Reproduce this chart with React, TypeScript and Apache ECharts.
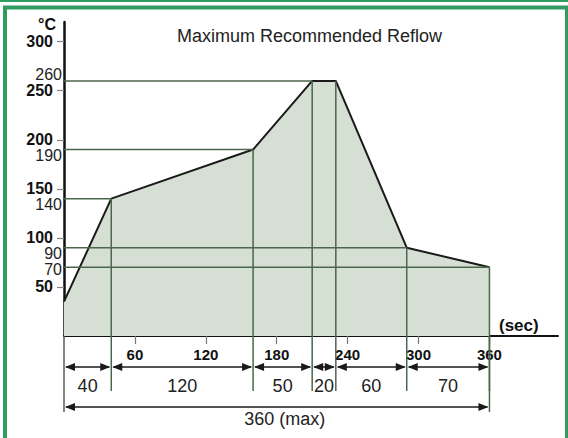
import React, { useEffect, useRef } from 'react';
import * as echarts from 'echarts';

// Reflow profile: time (s) and temperature (°C) at each breakpoint
const times = [0, 40, 160, 210, 230, 290, 360];
const temps = [35, 140, 190, 260, 260, 90, 70];
// Temperatures marked with a horizontal guide line and a thin label
const markedTemps = [260, 190, 140, 90, 70];
const yTickValues = [50, 100, 150, 200, 250, 300];
const xTickValues = [60, 120, 180, 240, 300, 360];
const titleText = 'Maximum Recommended Reflow';
const yUnit = '°C';
const xUnit = '(sec)';
const totalLabel = '360 (max)';

const GREEN = '#2f9c62';
const GUIDE = '#4b664b';
const INK = '#1a1a1a';
const FILL = '#d5dfd3';
const THIN_FONT = 16;
const BOLD_FONT = 16;

function arrow(x1: number, x2: number, y: number) {
  const head = 10;
  const hw = 4;
  return [
    { type: 'line', shape: { x1: x1 + 2, y1: y, x2: x2 - 2, y2: y }, style: { stroke: INK, lineWidth: 1.6 } },
    { type: 'polygon', shape: { points: [[x1 + 1, y], [x1 + 1 + head, y - hw], [x1 + 1 + head, y + hw]] }, style: { fill: INK } },
    { type: 'polygon', shape: { points: [[x2 - 1, y], [x2 - 1 - head, y - hw], [x2 - 1 - head, y + hw]] }, style: { fill: INK } },
  ];
}

// Place the thin temperature labels next to their guide lines, nudged just
// enough to stay clear of the bold tick labels and of each other.
function layoutThinLabels(api: any): Record<number, number> {
  const minDist = (THIN_FONT + BOLD_FONT) / 2;
  const bold = yTickValues.map((v) => api.coord([0, v])[1]);
  const items = markedTemps
    .map((T) => ({ T, y: api.coord([0, T])[1] }))
    .sort((a, b) => a.y - b.y);
  const out: Record<number, number> = {};
  let prev = -Infinity;
  items.forEach((it) => {
    let y = it.y;
    bold.forEach((b) => {
      if (Math.abs(y - b) < minDist) {
        y = b < it.y ? b + minDist : b - minDist;
      }
    });
    if (y - prev < THIN_FONT) y = prev + THIN_FONT;
    out[it.T] = y;
    prev = y;
  });
  return out;
}

export default function App() {
  const ref = useRef<HTMLDivElement>(null);
  useEffect(() => {
    if (!ref.current) return;
    const chart = echarts.init(ref.current, undefined, { renderer: 'svg' });

    const profile = times.map((t, i) => [t, temps[i]]);
    const vGuides = times.slice(1).map((t, i) => [t, temps[i + 1]]);
    const hGuides = markedTemps.map((T) => {
      const i = temps.indexOf(T);
      return [times[i], T];
    });
    const segments = times.slice(1).map((t, i) => [times[i], t, 0]);
    const total = [[times[0], times[times.length - 1], 0]];

    const option: any = {
      animation: false,
      title: {
        text: titleText,
        left: 177,
        top: 27,
        padding: 0,
        textStyle: { fontSize: 18, fontWeight: 'normal', fontFamily: 'Arial', color: '#222' },
      },
      grid: { left: 64, right: 10, top: 22, bottom: 102 },
      xAxis: {
        type: 'value',
        min: 0,
        max: 418,
        interval: 60,
        axisLine: { lineStyle: { color: '#111', width: 2 } },
        axisTick: { show: true, customValues: xTickValues, length: 8, lineStyle: { color: '#777', width: 1.2 } },
        axisLabel: {
          customValues: xTickValues,
          margin: 11,
          fontSize: 15,
          fontWeight: 'bold',
          fontFamily: 'Arial',
          color: '#111',
          formatter: (v: number) => (v === 0 || v > 360 ? '' : String(v)),
        },
        splitLine: { show: false },
      },
      yAxis: {
        type: 'value',
        min: 0,
        max: 320,
        interval: 50,
        axisLine: { show: true, lineStyle: { color: '#111', width: 2.5 } },
        axisTick: { show: true, customValues: yTickValues, length: 7, lineStyle: { color: '#888', width: 1.2 } },
        axisLabel: {
          customValues: yTickValues,
          margin: 11,
          fontSize: BOLD_FONT,
          fontWeight: 'bold',
          fontFamily: 'Arial',
          color: '#111',
          formatter: (v: number) => (v === 0 || v > 300 ? '' : String(v)),
        },
        splitLine: { show: false },
      },
      graphic: [
        { type: 'rect', left: 0, top: 0, shape: { width: 568, height: 2 }, style: { fill: GREEN }, z: 10 },
        { type: 'rect', shape: { x: 5, y: 7.5, width: 562, height: 440 }, style: { fill: 'none', stroke: GREEN, lineWidth: 4 }, z: 10 },
        { type: 'text', left: 38, top: 16, style: { text: yUnit, fontSize: 16, fontWeight: 'bold', fontFamily: 'Arial', fill: '#111' } },
        { type: 'text', left: 499, top: 317, style: { text: xUnit, fontSize: 17, fontWeight: 'bold', fontFamily: 'Arial', fill: '#111' } },
      ],
      series: [
        {
          name: 'profile',
          type: 'line',
          data: profile,
          symbol: 'none',
          lineStyle: { color: INK, width: 2 },
          areaStyle: { color: FILL, opacity: 1 },
          z: 2,
        },
        {
          name: 'hGuides',
          type: 'custom',
          coordinateSystem: 'cartesian2d',
          clip: false,
          z: 3,
          data: hGuides,
          encode: { x: 0, y: 1 },
          renderItem: (params: any, api: any) => {
            const t = api.value(0);
            const T = api.value(1);
            const p = api.coord([t, T]);
            const o = api.coord([0, T]);
            const ly = layoutThinLabels(api)[T];
            return {
              type: 'group',
              children: [
                { type: 'line', shape: { x1: o[0], y1: o[1], x2: p[0], y2: p[1] }, style: { stroke: GUIDE, lineWidth: 1.5 } },
                {
                  type: 'text',
                  x: o[0] - 2,
                  y: ly,
                  style: { text: String(T), fill: '#222', fontSize: THIN_FONT, fontFamily: 'Arial', align: 'right', verticalAlign: 'middle' },
                },
              ],
            };
          },
        },
        {
          name: 'vGuides',
          type: 'custom',
          coordinateSystem: 'cartesian2d',
          clip: false,
          z: 3,
          data: vGuides,
          encode: { x: 0, y: 1 },
          renderItem: (params: any, api: any) => {
            const t = api.value(0);
            const T = api.value(1);
            const p = api.coord([t, T]);
            const b = api.coord([t, 0]);
            return { type: 'line', shape: { x1: p[0], y1: p[1], x2: b[0], y2: b[1] + 55 }, style: { stroke: GUIDE, lineWidth: 1.5 } };
          },
        },
        {
          name: 'segments',
          type: 'custom',
          coordinateSystem: 'cartesian2d',
          clip: false,
          z: 4,
          data: segments,
          encode: { x: [0, 1], y: 2 },
          renderItem: (params: any, api: any) => {
            const t0 = api.value(0);
            const t1 = api.value(1);
            const a = api.coord([t0, 0]);
            const b = api.coord([t1, 0]);
            const y = a[1] + 31;
            return {
              type: 'group',
              children: [
                ...arrow(a[0], b[0], y),
                {
                  type: 'text',
                  x: (a[0] + b[0]) / 2,
                  y: a[1] + 50,
                  style: { text: String(t1 - t0), fill: '#222', fontSize: 18, fontFamily: 'Arial', align: 'center', verticalAlign: 'middle' },
                },
              ],
            };
          },
        },
        {
          name: 'total',
          type: 'custom',
          coordinateSystem: 'cartesian2d',
          clip: false,
          z: 4,
          data: total,
          encode: { x: [0, 1], y: 2 },
          renderItem: (params: any, api: any) => {
            const t0 = api.value(0);
            const t1 = api.value(1);
            const a = api.coord([t0, 0]);
            const b = api.coord([t1, 0]);
            const y = a[1] + 71;
            return {
              type: 'group',
              children: [
                { type: 'line', shape: { x1: a[0], y1: a[1], x2: a[0], y2: a[1] + 76 }, style: { stroke: GUIDE, lineWidth: 1.5 } },
                { type: 'line', shape: { x1: b[0], y1: b[1], x2: b[0], y2: b[1] + 76 }, style: { stroke: GUIDE, lineWidth: 1.5 } },
                ...arrow(a[0], b[0], y),
                {
                  type: 'text',
                  x: (a[0] + b[0]) / 2 + 8,
                  y: a[1] + 83,
                  style: { text: totalLabel, fill: '#222', fontSize: 18, fontFamily: 'Arial', align: 'center', verticalAlign: 'middle' },
                },
              ],
            };
          },
        },
      ],
    };
    chart.setOption(option);
    return () => chart.dispose();
  }, []);
  return (
    <div
      ref={ref}
      style={{ position: 'fixed', left: 0, top: 0, width: 568, height: 438, background: '#fff' }}
    />
  );
}
